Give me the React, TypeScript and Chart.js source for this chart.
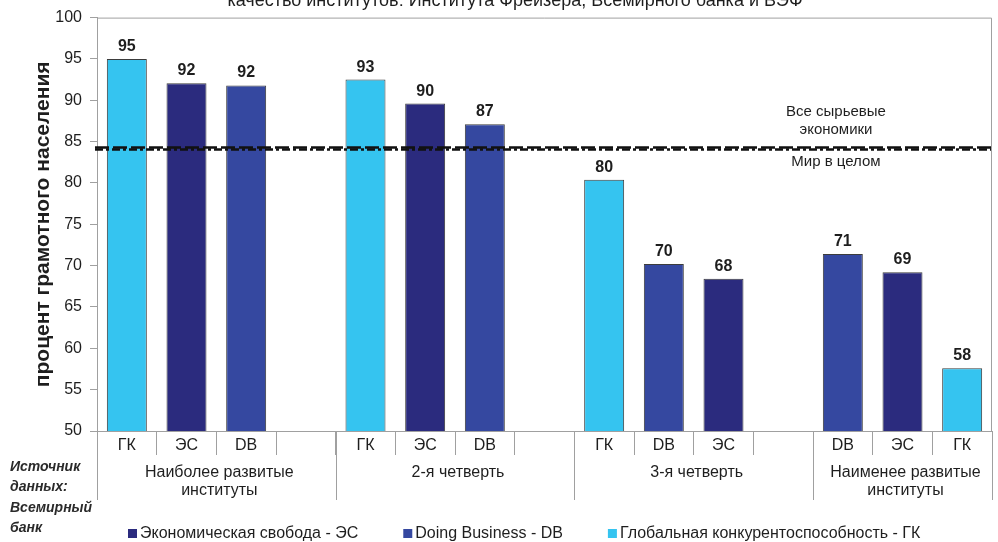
import { useEffect, useRef } from 'react';
import { Chart, registerables } from 'chart.js';

Chart.register(...registerables);

// Categories along the x axis: source index per slot, an empty slot closes each group
const categories = ['ГК', 'ЭС', 'DB', '', 'ГК', 'ЭС', 'DB', '', 'ГК', 'DB', 'ЭС', '', 'DB', 'ЭС', 'ГК'];

// Institution-quality groups and how many slots each spans
const groupLabels = [
  ['Наиболее развитые', 'институты'],
  ['2-я четверть'],
  ['3-я четверть'],
  ['Наименее развитые', 'институты'],
];
const groupSizes = [4, 4, 4, 3];

// Literacy rate (%) by index
const esValues = [null, 92.05, null, null, null, 89.6, null, null, null, null, 68.4, null, null, 69.2, null];
const dbValues = [null, null, 91.8, null, null, null, 87.1, null, null, 70.2, null, null, 71.4, null, null];
const gkValues = [95.0, null, null, null, 92.5, null, null, null, 80.4, null, null, null, null, null, 57.6];

// Reference levels
const rawExportersLevel = 84.3;
const worldLevel = 84.05;

const yMin = 50;
const yMax = 100;
const yStep = 5;

const chartTitle = 'качество институтов: Института Фрейзера, Всемирного банка и ВЭФ';
const yTitle = 'процент грамотного населения';
const sourceNote = ['Источник', 'данных:', 'Всемирный', 'банк'];
const rawExportersLabel = ['Все сырьевые', 'экономики'];
const worldLabel = 'Мир в целом';

const FONT = "'Liberation Sans', Arial, sans-serif";
const TEXT = '#1e1e1e';
const AXIS = '#a0a0a0';

const decorations = {
  id: 'decorations',
  afterDraw(chart: any) {
    const { ctx, chartArea } = chart;
    const x = chart.scales.x;
    ctx.save();

    // Frame: top and right edges of the plot
    ctx.strokeStyle = AXIS;
    ctx.lineWidth = 1;
    ctx.beginPath();
    ctx.moveTo(chartArea.left, chartArea.top + 0.5);
    ctx.lineTo(chartArea.right - 0.5, chartArea.top + 0.5);
    ctx.lineTo(chartArea.right - 0.5, chartArea.bottom);
    ctx.stroke();

    // Title (second line, mostly above the canvas)
    ctx.fillStyle = TEXT;
    ctx.font = `18px ${FONT}`;
    ctx.textAlign = 'center';
    ctx.textBaseline = 'alphabetic';
    ctx.fillText(chartTitle, 515, 6);

    // Group separators and group labels
    const half = (x.getPixelForValue(1) - x.getPixelForValue(0)) / 2;
    let start = 0;
    const edges: number[] = [x.getPixelForValue(0) - half];
    groupSizes.forEach((n) => {
      start += n;
      edges.push(x.getPixelForValue(start - 1) + half);
    });
    ctx.strokeStyle = AXIS;
    ctx.beginPath();
    edges.forEach((ex) => {
      const px = Math.round(ex) + 0.5;
      ctx.moveTo(px, chartArea.bottom);
      ctx.lineTo(px, chartArea.bottom + 69);
    });
    ctx.stroke();

    ctx.fillStyle = TEXT;
    ctx.font = `16px ${FONT}`;
    ctx.textBaseline = 'middle';
    groupLabels.forEach((lines, i) => {
      const cx = (edges[i] + edges[i + 1]) / 2 + 3;
      lines.forEach((line, j) => {
        ctx.fillText(line, cx, chartArea.bottom + 42 + j * 18);
      });
    });

    // Source note
    ctx.font = `italic bold 14px ${FONT}`;
    ctx.fillStyle = '#2a2a2a';
    ctx.textAlign = 'left';
    sourceNote.forEach((line, j) => {
      ctx.fillText(line, 10, 467 + j * 20.5);
    });

    // Legend
    ctx.font = `16px ${FONT}`;
    let lx = 128;
    const ly = 534;
    chart.data.datasets.forEach((ds: any) => {
      ctx.fillStyle = ds.backgroundColor;
      ctx.fillRect(lx, ly - 5, 9, 9);
      ctx.fillStyle = TEXT;
      ctx.fillText(ds.label, lx + 12, ly);
      lx += 12 + ctx.measureText(ds.label).width + 45;
    });

    ctx.restore();
  },
  afterDatasetsDraw(chart: any) {
    const { ctx, chartArea } = chart;
    const y = chart.scales.y;
    ctx.save();

    // Value labels above bars
    ctx.fillStyle = TEXT;
    ctx.font = `bold 16px ${FONT}`;
    ctx.textAlign = 'center';
    ctx.textBaseline = 'alphabetic';
    chart.data.datasets.forEach((ds: any, di: number) => {
      const meta = chart.getDatasetMeta(di);
      ds.data.forEach((v: number | null, i: number) => {
        if (v == null) return;
        const el = meta.data[i];
        ctx.fillText(String(Math.round(v)), el.x, el.y - 8);
      });
    });

    // Reference levels
    const yA = y.getPixelForValue(rawExportersLevel);
    const yB = y.getPixelForValue(worldLevel);
    ctx.strokeStyle = '#111';
    ctx.lineWidth = 2.5;
    ctx.setLineDash([14, 4]);
    ctx.beginPath();
    ctx.moveTo(chartArea.left - 2, yA);
    ctx.lineTo(chartArea.right, yA);
    ctx.stroke();
    ctx.setLineDash([8, 3, 3, 3]);
    ctx.beginPath();
    ctx.moveTo(chartArea.left - 2, yB);
    ctx.lineTo(chartArea.right, yB);
    ctx.stroke();
    ctx.setLineDash([]);

    ctx.font = `15px ${FONT}`;
    ctx.textBaseline = 'middle';
    const cx = chartArea.right - 156;
    ctx.fillText(rawExportersLabel[0], cx, yA - 36);
    ctx.fillText(rawExportersLabel[1], cx, yA - 18);
    ctx.fillText(worldLabel, cx, yB + 12);

    ctx.restore();
  },
};

export default function App() {
  const canvasRef = useRef<HTMLCanvasElement | null>(null);

  useEffect(() => {
    const canvas = canvasRef.current;
    if (!canvas) return;
    const barCommon = {
      grouped: false,
      categoryPercentage: 1,
      barPercentage: 0.67,
      borderColor: '#3c3c3c',
      borderWidth: 1,
    };
    const chart = new Chart(canvas, {
      type: 'bar',
      data: {
        labels: categories,
        datasets: [
          { label: 'Экономическая свобода - ЭС', data: esValues, backgroundColor: '#2b2b7e', ...barCommon },
          { label: 'Doing Business - DB', data: dbValues, backgroundColor: '#3548a0', ...barCommon },
          { label: 'Глобальная конкурентоспособность - ГК', data: gkValues, backgroundColor: '#35c4f0', ...barCommon },
        ],
      },
      options: {
        animation: false,
        responsive: false,
        devicePixelRatio: 1,
        layout: { padding: { top: 16, right: 6, left: 0, bottom: 0 } },
        plugins: {
          legend: { display: false },
          tooltip: { enabled: false },
        },
        scales: {
          x: {
            type: 'category',
            offset: true,
            afterFit: (scale: any) => {
              scale.height = 111;
            },
            grid: {
              offset: true,
              drawOnChartArea: false,
              drawTicks: true,
              tickLength: 24,
              color: AXIS,
            },
            border: { display: true, color: AXIS },
            ticks: {
              autoSkip: false,
              maxRotation: 0,
              padding: -19,
              color: TEXT,
              font: { family: FONT, size: 16 },
            },
          },
          y: {
            min: yMin,
            max: yMax,
            afterFit: (scale: any) => {
              scale.width = 97;
            },
            ticks: {
              stepSize: yStep,
              padding: 8,
              color: TEXT,
              font: { family: FONT, size: 16 },
            },
            grid: {
              drawOnChartArea: false,
              drawTicks: true,
              tickLength: 7,
              color: AXIS,
            },
            border: { display: true, color: AXIS },
            title: {
              display: true,
              text: yTitle,
              color: TEXT,
              font: { family: FONT, size: 21, weight: 'bold' },
              padding: { top: 31, bottom: 0 },
            },
          },
        },
      },
      plugins: [decorations],
    });
    return () => chart.destroy();
  }, []);

  return (
    <div style={{ position: 'fixed', left: 0, top: 0, width: 998, height: 542, background: '#fff' }}>
      <canvas ref={canvasRef} width={998} height={542} />
    </div>
  );
}
